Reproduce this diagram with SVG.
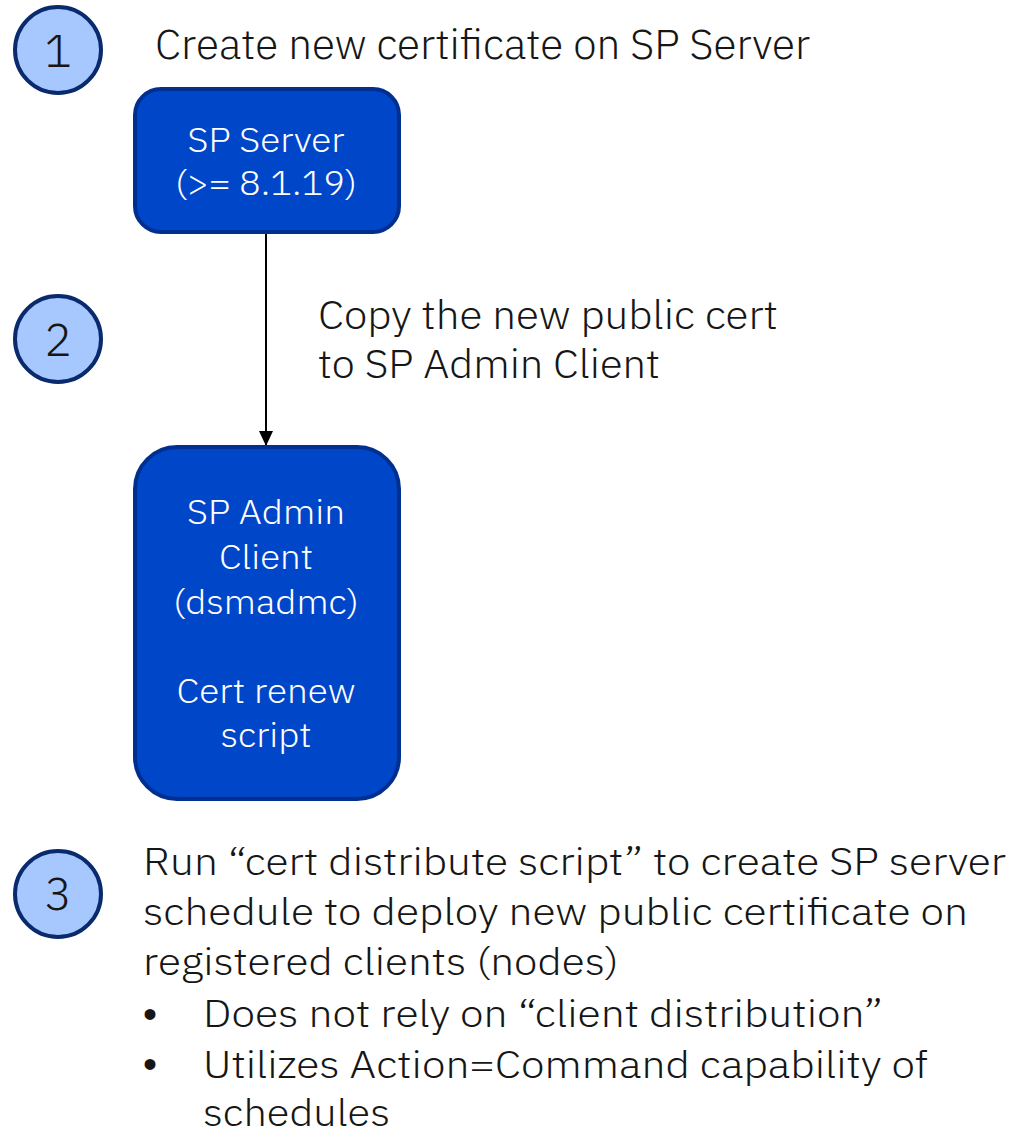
<svg xmlns="http://www.w3.org/2000/svg" width="1015" height="1135" viewBox="0 0 1015 1135">
<defs>
<style>
.t{font-family:"IBM Plex Sans","Open Sans","Liberation Sans",sans-serif;font-weight:300;fill:#161616}
.w{font-family:"IBM Plex Sans","Open Sans","Liberation Sans",sans-serif;font-weight:300;fill:#ffffff;font-size:35px;text-anchor:middle}
.num{font-family:"IBM Plex Sans","Open Sans","Liberation Sans",sans-serif;font-weight:300;fill:#161616;font-size:46px;text-anchor:middle}
.step{fill:#a6c8ff;stroke:#0a2a6e;stroke-width:4}
.box{fill:#0046c9;stroke:#002f8f;stroke-width:4}
.bul{font-family:"Liberation Sans",sans-serif;fill:#161616;font-size:40px;text-anchor:middle}
</style>
<marker id="arr" markerWidth="15" markerHeight="14" refX="15" refY="7" orient="auto" markerUnits="userSpaceOnUse">
<path d="M0,0 L15,7 L0,14 Z" fill="#000"/>
</marker>
</defs>
<rect width="1015" height="1135" fill="#ffffff"/>
<g id="connectors">
<line x1="266" y1="233" x2="266" y2="446" stroke="#000" stroke-width="2" marker-end="url(#arr)"/>
</g>
<g id="step1">
<circle class="step" cx="58" cy="50" r="43"/>
<text class="num" x="58" y="67">1</text>
<text class="t" x="155" y="59" font-size="41" textLength="655" lengthAdjust="spacingAndGlyphs">Create new certificate on SP Server</text>
</g>
<g id="sp-server">
<rect class="box" x="135" y="89" width="264" height="143" rx="26"/>
<text class="w" x="266" y="152" textLength="157" lengthAdjust="spacingAndGlyphs">SP Server</text>
<text class="w" x="266" y="195" textLength="182" lengthAdjust="spacingAndGlyphs">(&gt;= 8.1.19)</text>
</g>
<g id="step2">
<circle class="step" cx="58" cy="339" r="43"/>
<text class="num" x="58" y="356">2</text>
<text class="t" x="318" y="329" font-size="40" textLength="460" lengthAdjust="spacingAndGlyphs">Copy the new public cert</text>
<text class="t" x="318" y="378" font-size="40" textLength="342" lengthAdjust="spacingAndGlyphs">to SP Admin Client</text>
</g>
<g id="sp-admin-client">
<rect class="box" x="135" y="447" width="264" height="352" rx="42"/>
<text class="w" x="266" y="524" textLength="158" lengthAdjust="spacingAndGlyphs">SP Admin</text>
<text class="w" x="266" y="569" textLength="94" lengthAdjust="spacingAndGlyphs">Client</text>
<text class="w" x="266" y="614" textLength="186" lengthAdjust="spacingAndGlyphs">(dsmadmc)</text>
<text class="w" x="266" y="703" textLength="179" lengthAdjust="spacingAndGlyphs">Cert renew</text>
<text class="w" x="266" y="747" textLength="91" lengthAdjust="spacingAndGlyphs">script</text>
</g>
<g id="step3">
<circle class="step" cx="58" cy="894" r="43"/>
<text class="num" x="58" y="910">3</text>
<text class="t" x="143" y="875" font-size="37" textLength="863" lengthAdjust="spacingAndGlyphs">Run “cert distribute script” to create SP server</text>
<text class="t" x="143" y="925" font-size="37" textLength="825" lengthAdjust="spacingAndGlyphs">schedule to deploy new public certificate on</text>
<text class="t" x="143" y="975" font-size="37" textLength="476" lengthAdjust="spacingAndGlyphs">registered clients (nodes)</text>
<text class="bul" x="150" y="1028">•</text>
<text class="t" x="203" y="1027" font-size="37" textLength="680" lengthAdjust="spacingAndGlyphs">Does not rely on “client distribution”</text>
<text class="bul" x="150" y="1078">•</text>
<text class="t" x="203" y="1078" font-size="37" textLength="725" lengthAdjust="spacingAndGlyphs">Utilizes Action=Command capability of</text>
<text class="t" x="203" y="1126" font-size="37" textLength="187" lengthAdjust="spacingAndGlyphs">schedules</text>
</g>
</svg>
